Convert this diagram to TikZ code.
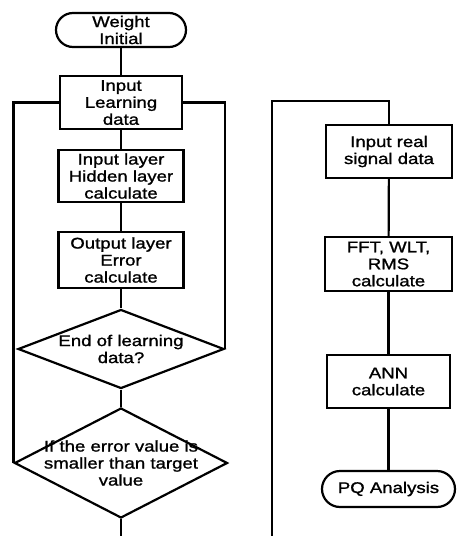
\documentclass[tikz,border=0pt]{standalone}
\usepackage{fontspec}
\usepackage{tikz}
\usetikzlibrary{shapes.geometric}
\newfontfamily\chartFont[FakeStretch=1.2, FakeBold=1.2]{Liberation Sans}
\tikzstyle{chart} = [x = 1pt, y = -1pt, every node/.style={font=\chartFont\fontsize{15.5}{17}\selectfont, align=center}]
\tikzstyle{lineStyle} = [line width=2.2pt]
\tikzstyle{boxStyle} = [draw, rectangle, line width=2.2pt, inner sep=0pt]
\tikzstyle{termStyle} = [draw, rectangle, rounded corners=17pt, line width=2.2pt, inner sep=0pt]
\tikzstyle{decisionStyle} = [draw, diamond, line width=2.2pt, inner sep=0pt]
\newcommand{\procBox}[6]{\node [boxStyle, minimum width=#4pt, minimum height=#5pt] (#1) at (#2,#3) {#6};}

\begin{document}
\begin{tikzpicture}[chart]
          \useasboundingbox (0,0) rectangle (456,536);

          % learning loop
          \node [termStyle, minimum width=130pt, minimum height=34pt] (weight) at (121,30) {Weight\\Initial};
          \procBox{learn}{121}{102.5}{122}{53}{Input\\Learning\\data}
          \procBox{hidden}{121}{176}{125}{52}{Input layer\\Hidden layer\\calculate}
          \procBox{output}{121}{260}{125}{56}{Output layer\\Error\\calculate}
          \node [decisionStyle, minimum width=206pt, minimum height=79pt,
                 label={center:End of learning\\data?}] (endq) at (121,349) {};
          \node [decisionStyle, minimum width=213pt, minimum height=110pt,
                 label={center:If the error value is\\smaller than target\\value}] (errq) at (121,463) {};
          \coordinate (lbot) at (121,536);

          \draw [lineStyle] (weight) -- (learn);
          \draw [lineStyle] (learn) -- (hidden);
          \draw [lineStyle] (hidden) -- (output);
          \draw [lineStyle] (output) -- (endq);
          \draw [lineStyle] (endq) -- (errq);
          \draw [lineStyle] (errq) -- (lbot);
          \draw [lineStyle] (learn.west) -| (errq.west);
          \draw [lineStyle] (learn.east) -| (endq.east);

          % analysis
          \procBox{signal}{389}{151.5}{126}{53}{Input real\\signal data}
          \procBox{fft}{388.5}{264}{127}{54}{FFT, WLT,\\RMS\\calculate}
          \procBox{ann}{388.5}{381.5}{123}{53}{ANN\\calculate}
          \node [termStyle, minimum width=133pt, minimum height=36pt, rounded corners=18pt] (pq) at (388.5,489) {PQ Analysis};
          \coordinate (rbot) at (272,536);
          \coordinate (rtop) at (389,101);

          \draw [lineStyle] (rbot) |- (rtop) -- (signal);
          \draw [lineStyle] (signal) -- (fft);
          \draw [lineStyle] (fft) -- (ann);
          \draw [lineStyle] (ann) -- (pq);
        \end{tikzpicture}
\end{document}
